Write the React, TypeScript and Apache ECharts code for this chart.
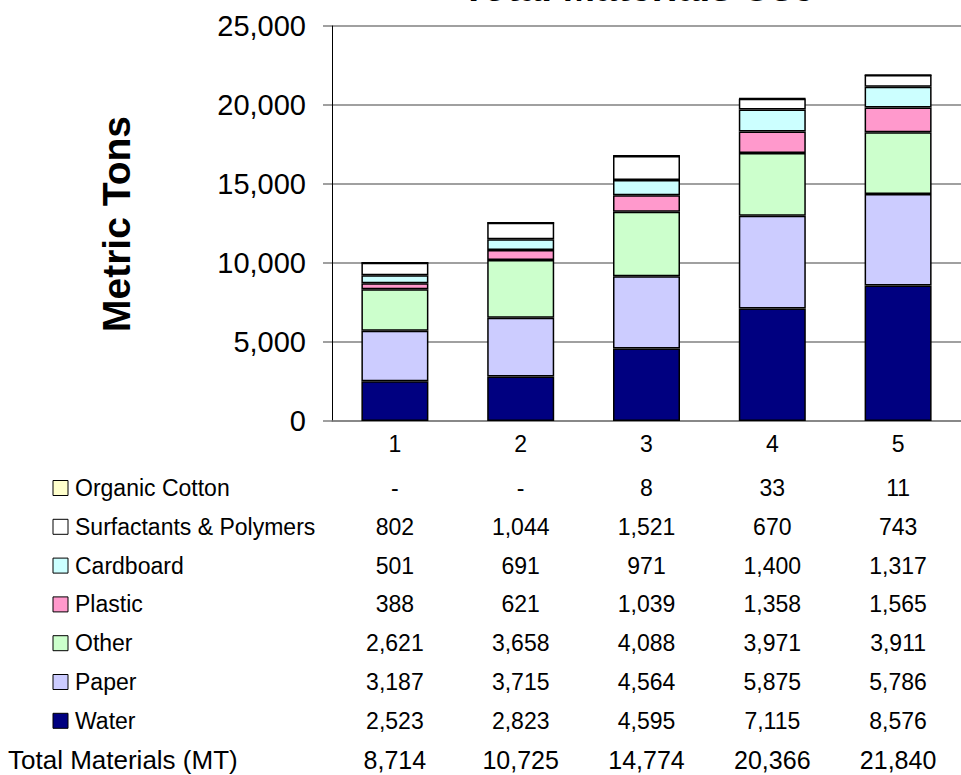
import React, { useEffect, useRef } from "react";
import * as echarts from "echarts";

// Materials used per period, in metric tons
const categories = ["1", "2", "3", "4", "5"];
const water = [2523, 2823, 4595, 7115, 8576];
const paper = [3187, 3715, 4564, 5875, 5786];
const other = [2621, 3658, 4088, 3971, 3911];
const plastic = [388, 621, 1039, 1358, 1565];
const cardboard = [501, 691, 971, 1400, 1317];
const surfactants = [802, 1044, 1521, 670, 743];
const organicCotton = [0, 0, 8, 33, 11];
const totalMaterials = [8714, 10725, 14774, 20366, 21840];

const seriesDefs = [
  { name: "Water", data: water, color: "#000080" },
  { name: "Paper", data: paper, color: "#CCCCFF" },
  { name: "Other", data: other, color: "#CCFFCC" },
  { name: "Plastic", data: plastic, color: "#FF99CC" },
  { name: "Cardboard", data: cardboard, color: "#CCFFFF" },
  { name: "Surfactants & Polymers", data: surfactants, color: "#FFFFFF" },
  { name: "Organic Cotton", data: organicCotton, color: "#FFFFCC" },
];

const FONT = "'Liberation Sans', Arial, sans-serif";

const fmt = (v: number) => (v === 0 ? "-" : v.toLocaleString("en-US"));

export default function App() {
  const ref = useRef<HTMLDivElement>(null);

  useEffect(() => {
    document.body.style.margin = "0";
    const chart = echarts.init(ref.current!, undefined, { renderer: "svg" });

    const baseOption: any = {
      animation: false,
      backgroundColor: "#ffffff",
      grid: { left: 332, top: 26, width: 637, height: 395, containLabel: false },
      xAxis: {
        type: "category",
        data: categories,
        axisLine: { lineStyle: { color: "#808080", width: 1.5 } },
        axisTick: { show: false },
        axisLabel: { color: "#000", fontFamily: FONT, fontSize: 23, margin: 11 },
      },
      yAxis: {
        type: "value",
        min: 0,
        max: 25000,
        interval: 5000,
        axisLine: { show: true, lineStyle: { color: "#000", width: 1 } },
        axisTick: { show: true, length: 9, lineStyle: { color: "#808080", width: 1.5 } },
        splitLine: { lineStyle: { color: "#808080", width: 1.5 } },
        axisLabel: {
          color: "#000",
          fontFamily: FONT,
          fontSize: 29,
          margin: 26,
          formatter: (v: number) => v.toLocaleString("en-US"),
        },
      },
      series: seriesDefs.map((s) => ({
        name: s.name,
        type: "bar",
        stack: "total",
        barWidth: 67,
        data: s.data,
        itemStyle: { color: s.color, borderColor: "#000", borderWidth: 1.5 },
      })),
    };
    chart.setOption(baseOption);

    // Data table under the plot, one column per category
    const colX = categories.map((c) => chart.convertToPixel({ xAxisIndex: 0 }, c) as number);
    const rowY0 = 488;
    const rowStep = 38.8;
    const graphics: any[] = [
      {
        type: "text",
        x: 638,
        y: -13,
        style: {
          text: "Total Materials Use",
          font: `bold 39px ${FONT}`,
          fill: "#000",
          align: "center",
          verticalAlign: "middle",
        },
      },
      {
        type: "text",
        x: 116,
        y: 224,
        rotation: Math.PI / 2,
        style: {
          text: "Metric Tons",
          font: `bold 39px ${FONT}`,
          fill: "#000",
          align: "center",
          verticalAlign: "middle",
        },
      },
    ];
    const rows = [...seriesDefs].reverse();
    rows.forEach((s, i) => {
      const y = rowY0 + i * rowStep;
      graphics.push({
        type: "rect",
        shape: { x: 53, y: y - 7.5, width: 15, height: 15 },
        style: { fill: s.color, stroke: "#000", lineWidth: 1 },
      });
      graphics.push({
        type: "text",
        x: 75,
        y,
        style: { text: s.name, font: `23px ${FONT}`, fill: "#000", align: "left", verticalAlign: "middle" },
      });
      s.data.forEach((v, j) => {
        graphics.push({
          type: "text",
          x: colX[j],
          y,
          style: { text: fmt(v), font: `23px ${FONT}`, fill: "#000", align: "center", verticalAlign: "middle" },
        });
      });
    });
    const totalY = rowY0 + rows.length * rowStep;
    graphics.push({
      type: "text",
      x: 8,
      y: totalY,
      style: { text: "Total Materials (MT)", font: `26px ${FONT}`, fill: "#000", align: "left", verticalAlign: "middle" },
    });
    totalMaterials.forEach((v, j) => {
      graphics.push({
        type: "text",
        x: colX[j],
        y: totalY,
        style: { text: fmt(v), font: `25px ${FONT}`, fill: "#000", align: "center", verticalAlign: "middle" },
      });
    });

    chart.setOption({ graphic: graphics });

    return () => chart.dispose();
  }, []);

  return <div ref={ref} style={{ width: 961, height: 775, overflow: "hidden" }} />;
}
